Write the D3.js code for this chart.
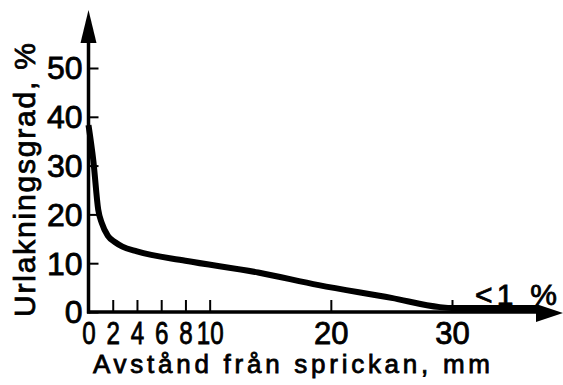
<!DOCTYPE html>
<html>
<head>
<meta charset="utf-8">
<script src="https://cdn.jsdelivr.net/npm/d3@7"></script>
<style>
  body{margin:0;background:#fff;}
  text{font-family:"Liberation Sans",Arial,sans-serif;fill:#000;stroke:#000;stroke-width:0.8px;}
</style>
</head>
<body>
<div id="canvas" class="canvas"></div>
<script>
//Data: distance from the crack (mm) vs leaching degree (%)
var distanceMm = [0, 0.4, 0.8, 1.1, 1.6, 2.2, 2.8, 4, 8, 14, 19, 25, 29, 30, 37];
var leachingPct = [38.3, 31, 21, 18.2, 15.6, 14.3, 13.4, 12.4, 10.5, 8.1, 5.5, 2.9, 1.0, 0.8, 0.8];
var xTicks = [0, 2, 4, 6, 8, 10, 20, 30];
var yTicks = [0, 10, 20, 30, 40, 50];
var yTitle = 'Urlakningsgrad, %';
var xTitle = 'Avstånd från sprickan, mm';
var noteText = '<1 %';

var outerWidth = 563,
    outerHeight = 385;

var svg = d3.select('.canvas')
    .append('svg')
    .attr('width', outerWidth)
    .attr('height', outerHeight);

//Scales
var scaleX = d3.scaleLinear().domain([0, 30]).range([88.5, 452]);
var scaleY = d3.scaleLinear().domain([0, 50]).range([312, 68]);

var x0 = scaleX(0), y0 = scaleY(0);

//Axis lines with arrow heads
svg.append('line')
    .attr('x1', x0).attr('y1', y0 + 1.5)
    .attr('x2', x0).attr('y2', 30)
    .attr('stroke', '#000').attr('stroke-width', 3.5);
svg.append('path')
    .attr('d', 'M' + x0 + ',10 L' + (x0 - 8) + ',43 L' + (x0 + 8) + ',43 Z')
    .attr('fill', '#000');

svg.append('line')
    .attr('x1', x0 - 1.5).attr('y1', y0)
    .attr('x2', 545).attr('y2', y0)
    .attr('stroke', '#000').attr('stroke-width', 3.5);
svg.append('path')
    .attr('d', 'M563,' + (y0 + 1) + ' L536,' + (y0 - 8) + ' L536,' + (y0 + 10) + ' Z')
    .attr('fill', '#000');

//Axis generators, ticks pointing into the plot
var axisY = d3.axisLeft(scaleY)
    .tickValues(yTicks)
    .tickSize(-10)
    .tickPadding(6);
var gy = svg.append('g').attr('transform', 'translate(' + x0 + ',0)').call(axisY);
gy.select('.domain').remove();
gy.selectAll('.tick line').attr('stroke', '#000').attr('stroke-width', 2);
gy.selectAll('.tick text')
    .attr('font-size', 32)
    .attr('font-family', null)
    .attr('x', -6)
    .attr('dy', '0.34em');

var axisX = d3.axisBottom(scaleX)
    .tickValues(xTicks)
    .tickSize(-12);
var gx = svg.append('g').attr('transform', 'translate(0,' + y0 + ')').call(axisX);
gx.select('.domain').remove();
gx.selectAll('.tick line').attr('stroke', '#000').attr('stroke-width', 2);
gx.selectAll('.tick line').filter(function(d){ return d == 0; }).remove();
gx.selectAll('.tick text')
    .attr('font-size', 31)
    .attr('font-family', null)
    .attr('y', 32)
    .attr('dy', null)
    .attr('transform', function(d){ return d <= 10 ? 'scale(0.78,1)' : null; });

//The curve
var pts = distanceMm.map(function(d, i){ return [d, leachingPct[i]]; });
var line = d3.line()
    .x(function(d){ return scaleX(d[0]); })
    .y(function(d){ return scaleY(d[1]); })
    .curve(d3.curveMonotoneX);

svg.append('path')
    .datum(pts)
    .attr('d', line)
    .attr('fill', 'none')
    .attr('stroke', '#000')
    .attr('stroke-width', 6)
    .attr('stroke-linejoin', 'round');

//Titles
svg.append('text')
    .attr('transform', 'translate(35,180) rotate(-90)')
    .attr('text-anchor', 'middle')
    .attr('font-size', 30)
    .attr('textLength', 274)
    .attr('lengthAdjust', 'spacing')
    .text(yTitle);

svg.append('text')
    .attr('x', 93)
    .attr('y', 373)
    .attr('font-size', 26)
    .attr('textLength', 397)
    .attr('lengthAdjust', 'spacing')
    .text(xTitle);

svg.append('text')
    .attr('x', 475)
    .attr('y', 305)
    .attr('font-size', 30)
    .attr('textLength', 82)
    .attr('lengthAdjust', 'spacing')
    .text(noteText);
</script>
</body>
</html>
